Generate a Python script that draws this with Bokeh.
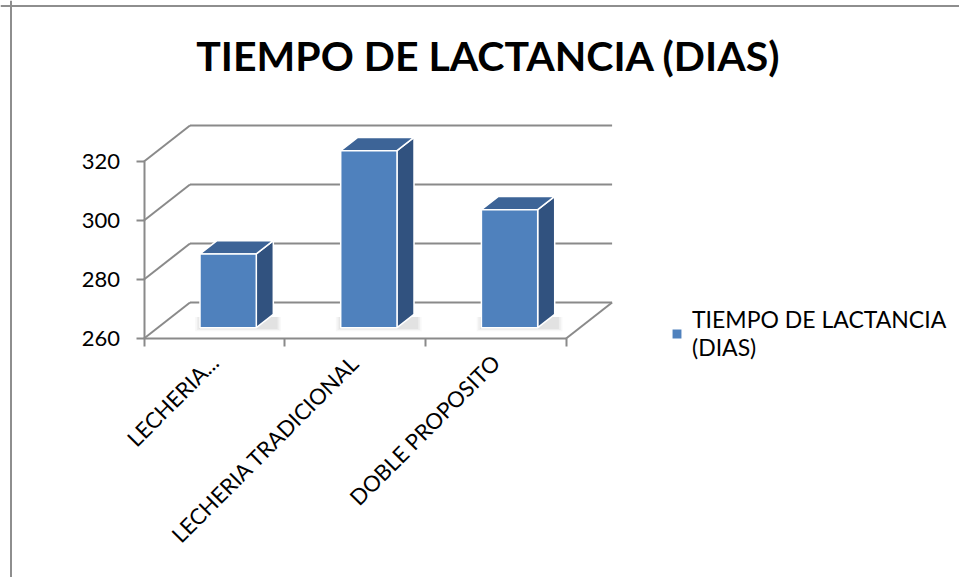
from math import pi

from bokeh.plotting import figure
from bokeh.models import (LinearAxis, FixedTicker, Range1d, Label, Legend,
                          LegendItem, Span)
from bokeh.embed import file_html
from bokeh.resources import INLINE

# ---------------- data ----------------
TITLE = "TIEMPO DE LACTANCIA (DIAS)"
CATEGORIES = ["LECHERIA...", "LECHERIA TRADICIONAL", "DOBLE PROPOSITO"]
VALUES = [285, 320, 300]
SERIES_NAME = "TIEMPO DE LACTANCIA\n(DIAS)"
Y_TICKS = [260, 280, 300, 320]

# ---------------- layout / style ----------------
W, H = 959, 577
PX_PER_CAT = 140.7          # horizontal pixels per category
PX_PER_UNIT = 2.95          # vertical pixels per value unit
ORIGIN_X, ORIGIN_Y = 143.5, 338.0   # canvas px of the front-left floor corner
BACK_DX, BACK_DY = 46.0, 36.0       # px shift from front plane to back wall
T0, DEPTH, BAR_W = 0.30, 0.37, 0.40  # bar depth position, bar depth, bar width
FONT = "Lato"
GRID_COLOR = "#8a8a8a"
FRONT, TOP, SIDE = "#4f81bd", "#3d6497", "#31527f"

N = len(CATEGORIES)
Y_BASE, Y_TOP = Y_TICKS[0], Y_TICKS[-1]

x_start = -ORIGIN_X / PX_PER_CAT
x_end = x_start + W / PX_PER_CAT
y_end = Y_BASE + ORIGIN_Y / PX_PER_UNIT
y_start = y_end - H / PX_PER_UNIT
DX = BACK_DX / PX_PER_CAT
DY = BACK_DY / PX_PER_UNIT

p = figure(width=W, height=H, output_backend="svg", toolbar_location=None,
           title=None, x_range=Range1d(x_start, x_end),
           y_range=Range1d(y_start, y_end), min_border=0,
           x_axis_type=None, y_axis_type=None)
p.grid.visible = False
p.outline_line_color = None
p.background_fill_color = "white"
p.border_fill_color = "white"

# chart border (left and top edges)
p.add_layout(Span(location=x_start + 10.5 / PX_PER_CAT, dimension="height",
                  line_color="#8e8e8e", line_width=2))
p.add_layout(Span(location=y_end - 5.5 / PX_PER_UNIT, dimension="width",
                  line_color="#8e8e8e", line_width=2))

# ---------------- 3D walls ----------------
back_xs = [[DX, N + DX] for v in Y_TICKS]
back_ys = [[v + DY, v + DY] for v in Y_TICKS]
wall_xs = [[0, DX] for v in Y_TICKS]
wall_ys = [[v, v + DY] for v in Y_TICKS]
floor_xs = [[N, N + DX]]
floor_ys = [[Y_BASE, Y_BASE + DY]]
p.multi_line(back_xs + wall_xs + floor_xs, back_ys + wall_ys + floor_ys,
             line_color=GRID_COLOR, line_width=2)

# ---------------- bars ----------------
centers = [i + 0.5 + T0 * DX for i in range(N)]
lefts = [c - BAR_W / 2 for c in centers]
rights = [c + BAR_W / 2 for c in centers]
bottom = Y_BASE + T0 * DY
tops = [v + T0 * DY for v in VALUES]
ddx, ddy = DEPTH * DX, DEPTH * DY

# soft floor shadows
for k, a in enumerate([0.05, 0.07, 0.09]):
    g = 0.012 * (2 - k)
    sh_xs = [[l - g - 0.01, r + ddx + g + 0.03, r + ddx + g + 0.03, l - g - 0.01]
             for l, r in zip(lefts, rights)]
    sh_ys = [[bottom - 1.2 + k * 0.4, bottom - 1.2 + k * 0.4,
              bottom + ddy * 0.8, bottom + ddy * 0.8] for _ in lefts]
    p.patches(sh_xs, sh_ys, fill_color="#6e6e6e", fill_alpha=a, line_color=None)

side_xs = [[r, r, r + ddx, r + ddx] for r in rights]
side_ys = [[bottom, t, t + ddy, bottom + ddy] for t in tops]
top_xs = [[l, r, r + ddx, l + ddx] for l, r in zip(lefts, rights)]
top_ys = [[t, t, t + ddy, t + ddy] for t in tops]

p.patches(side_xs, side_ys, fill_color=SIDE, line_color="white", line_width=1.5)
p.patches(top_xs, top_ys, fill_color=TOP, line_color="white", line_width=1.5)
front = p.quad(left=lefts, right=rights, bottom=bottom, top=tops,
               fill_color=FRONT, line_color="white", line_width=1.5)

# ---------------- axes ----------------
yaxis = LinearAxis(fixed_location=0, ticker=FixedTicker(ticks=Y_TICKS),
                   bounds=(Y_BASE, Y_TOP))
yaxis.axis_line_color = GRID_COLOR
yaxis.axis_line_width = 2
yaxis.major_tick_line_color = GRID_COLOR
yaxis.major_tick_line_width = 2
yaxis.major_tick_in = 0
yaxis.major_tick_out = 8
yaxis.minor_tick_line_color = None
yaxis.major_label_standoff = 16
yaxis.major_label_text_font = FONT
yaxis.major_label_text_font_size = "22px"
yaxis.major_label_text_color = "black"
p.add_layout(yaxis, "left")

edges = list(range(N + 1))
xaxis = LinearAxis(fixed_location=Y_BASE, ticker=FixedTicker(ticks=edges),
                   bounds=(0, N), major_label_overrides={e: "" for e in edges})
xaxis.axis_line_color = GRID_COLOR
xaxis.axis_line_width = 2
xaxis.major_tick_line_color = GRID_COLOR
xaxis.major_tick_line_width = 2
xaxis.major_tick_in = 0
xaxis.major_tick_out = 8
xaxis.minor_tick_line_color = None
p.add_layout(xaxis, "below")

mids = [i + 0.5 for i in range(N)]
caxis = LinearAxis(fixed_location=Y_BASE, ticker=FixedTicker(ticks=mids),
                   major_label_overrides={m: c for m, c in zip(mids, CATEGORIES)})
caxis.axis_line_color = None
caxis.major_tick_line_color = None
caxis.minor_tick_line_color = None
caxis.major_tick_in = 0
caxis.major_tick_out = 0
caxis.major_label_orientation = pi / 4
caxis.major_label_standoff = 20
caxis.major_label_text_font = FONT
caxis.major_label_text_font_size = "22px"
caxis.major_label_text_color = "black"
p.add_layout(caxis, "below")

# ---------------- title ----------------
p.add_layout(Label(x=488, y=H - 55, x_units="screen", y_units="screen",
                   text=TITLE, text_align="center", text_baseline="alphabetic",
                   text_font=FONT, text_font_style="bold",
                   text_font_size="41px", text_color="black"))

# ---------------- legend ----------------
legend = Legend(items=[LegendItem(label=SERIES_NAME, renderers=[front])],
                location=(670, 216), glyph_width=13, glyph_height=13,
                label_standoff=9, padding=0, margin=0, spacing=0,
                border_line_color=None, background_fill_alpha=0,
                label_text_font=FONT, label_text_font_size="23px",
                label_text_line_height=1.35, label_text_color="black")
p.add_layout(legend)

open("out.html", "w").write(file_html(p, INLINE))
